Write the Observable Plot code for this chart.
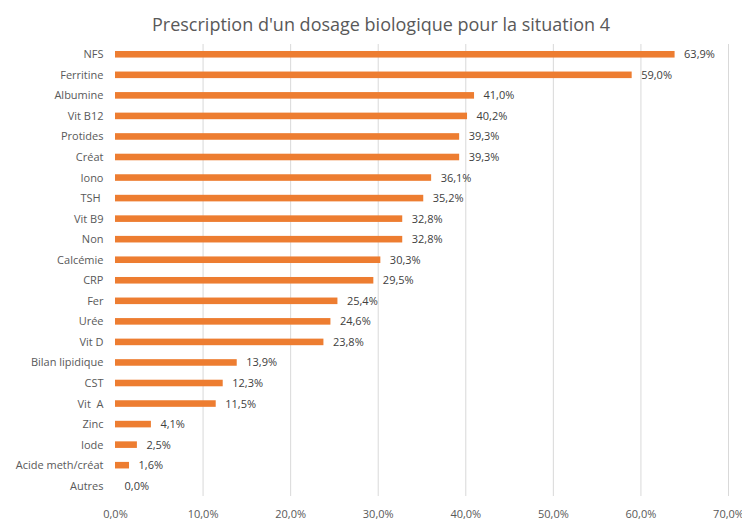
<!DOCTYPE html>
<html>
<head>
<meta charset="utf-8">
<script src="https://cdn.jsdelivr.net/npm/d3@7"></script>
<script src="https://cdn.jsdelivr.net/npm/@observablehq/plot@0.6"></script>
<style>
  html, body { margin: 0; padding: 0; background: #fff; }
  #chart { width: 742px; height: 524px; }
</style>
</head>
<body>
<div id="chart"></div>
<script>
const title = "Prescription d'un dosage biologique pour la situation 4";
const categories = ["NFS", "Ferritine", "Albumine", "Vit B12", "Protides", "Créat", "Iono", "TSH\u00a0", "Vit B9", "Non", "Calcémie", "CRP", "Fer", "Urée", "Vit D", "Bilan lipidique", "CST", "Vit\u00a0\u00a0A", "Zinc", "Iode", "Acide meth/créat", "Autres"];
const values = [63.9, 59.0, 41.0, 40.2, 39.3, 39.3, 36.1, 35.2, 32.8, 32.8, 30.3, 29.5, 25.4, 24.6, 23.8, 13.9, 12.3, 11.5, 4.1, 2.5, 1.6, 0.0];
const xTicks = [0, 10, 20, 30, 40, 50, 60, 70];

const data = categories.map((c, i) => ({ cat: c, value: values[i] }));
const fmt = d => d.toFixed(1).replace(".", ",") + "%";

const chart = Plot.plot({
  width: 742,
  height: 524,
  marginTop: 44,
  marginBottom: 28,
  marginLeft: 115,
  marginRight: 14,
  style: { fontFamily: "'Open Sans', sans-serif", fontSize: "11px", color: "#595959", background: "#fff" },
  x: { domain: [0, 70], ticks: xTicks, tickFormat: fmt, label: null },
  y: { domain: categories, paddingInner: 0.68, paddingOuter: 0.34, round: false, label: null },
  marks: [
    Plot.ruleX(xTicks.filter(t => t > 0), { stroke: "#d9d9d9", strokeWidth: 1 }),
    Plot.barX(data, { y: "cat", x: "value", fill: "#ED7D31" }),
    Plot.text(data, { y: "cat", x: "value", text: d => fmt(d.value), textAnchor: "start", dx: 9, fill: "#404040", fontSize: 11 }),
    Plot.axisX({ ticks: xTicks, tickFormat: fmt, tickSize: 0, tickPadding: 14, fill: "#595959", fontSize: 11, label: null }),
    Plot.axisY({ tickSize: 0, tickPadding: 12, fill: "#595959", fontSize: 11, label: null }),
    Plot.text([title], { frameAnchor: "top", dy: -26, dx: -41, fontSize: 18, fill: "#595959" })
  ]
});
document.getElementById("chart").appendChild(chart);
</script>
</body>
</html>
